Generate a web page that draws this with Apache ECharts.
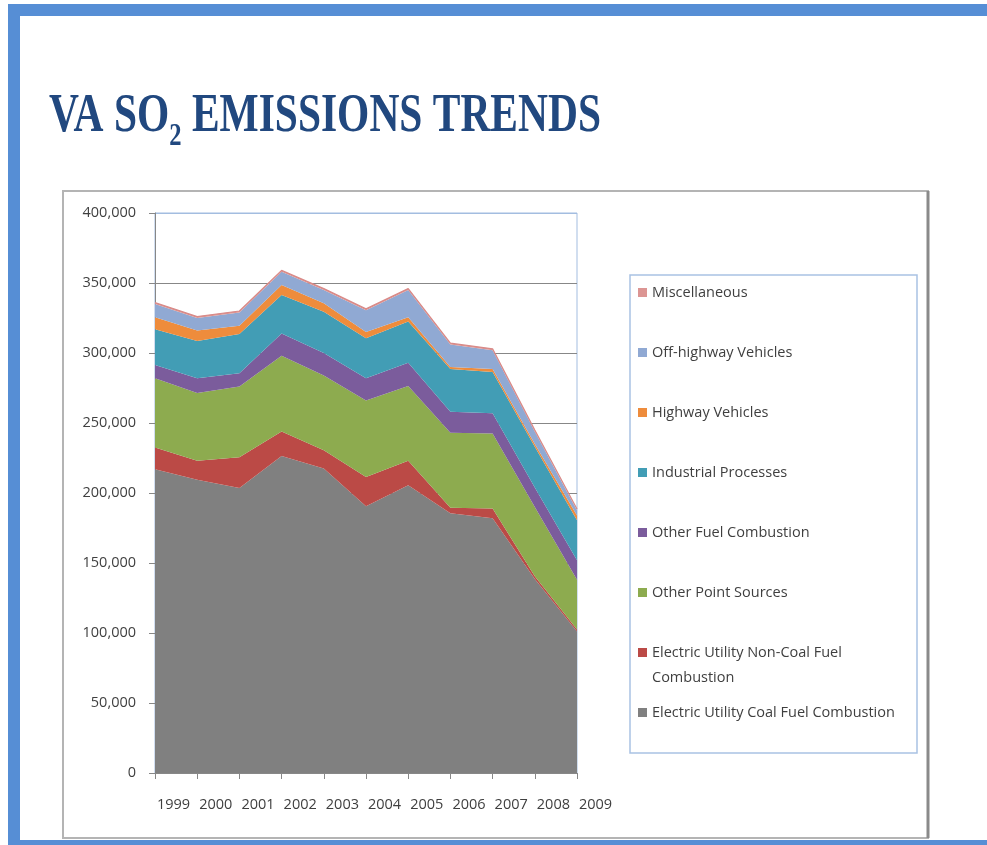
<!DOCTYPE html>
<html>
<head>
<meta charset="utf-8">
<script src="https://cdn.jsdelivr.net/npm/echarts@6/dist/echarts.min.js"></script>
<style>
  html, body { margin: 0; padding: 0; background: #ffffff; }
  #chart { width: 987px; height: 845px; }
</style>
</head>
<body>
<div id="chart"></div>
<script>
// Virginia SO2 emissions by source category, tons per year
const years = ['1999', '2000', '2001', '2002', '2003', '2004', '2005', '2006', '2007', '2008', '2009'];

const coalFuel      = [217000, 209500, 203500, 226500, 217500, 190500, 205500, 185500, 182000, 138500, 101000];
const nonCoalFuel   = [15500, 13500, 22000, 17500, 13000, 21000, 17500, 4000, 7000, 2000, 1500];
const otherPoint    = [49500, 48500, 50500, 54000, 53500, 54500, 53500, 53500, 53500, 49500, 35500];
const otherFuel     = [9500, 10500, 9500, 16000, 16000, 16000, 16500, 15000, 14500, 14000, 14000];
const industrial    = [25500, 26500, 28000, 27500, 29500, 28500, 29500, 30500, 29500, 29000, 28500];
const highway       = [8500, 7500, 6000, 7000, 6000, 4500, 3000, 1500, 2000, 2000, 3500];
const offHighway    = [9500, 9000, 9500, 9500, 9500, 15500, 19500, 16000, 13500, 9000, 3500];
const miscellaneous = [1000, 1000, 1000, 1000, 1000, 1000, 1000, 1000, 1000, 1000, 1000];

const yTicks = [0, 50000, 100000, 150000, 200000, 250000, 300000, 350000, 400000];

// bottom-to-top stacking order
const layers = [
  { name: 'Electric Utility Coal Fuel Combustion',     data: coalFuel,      color: '#808080' },
  { name: 'Electric Utility Non-Coal Fuel Combustion', data: nonCoalFuel,   color: '#bb4a46' },
  { name: 'Other Point Sources',                       data: otherPoint,    color: '#8dab4f' },
  { name: 'Other Fuel Combustion',                     data: otherFuel,     color: '#7b5c9c' },
  { name: 'Industrial Processes',                      data: industrial,    color: '#429db5' },
  { name: 'Highway Vehicles',                          data: highway,       color: '#ee8c3c' },
  { name: 'Off-highway Vehicles',                      data: offHighway,    color: '#90a9d3' },
  { name: 'Miscellaneous',                             data: miscellaneous, color: '#dc9593' }
];

const FONT = '"Open Sans", "DejaVu Sans", sans-serif';
const TEXT_COLOR = '#3f3f3f';
const AXIS_GREY = '#878787';
const PLOT_BLUE = '#a3bde0';

const chart = echarts.init(document.getElementById('chart'), null, { renderer: 'canvas' });

// --- title pieces measured so the subscript sits right after "SO"
const titleFont = 'bold 54px "Liberation Serif"';
const subFont = 'bold 32px "Liberation Serif"';
function textWidth(str, font) {
  return new echarts.graphic.Text({ style: { text: str, font: font } }).getBoundingRect().width;
}
const w1 = textWidth('VA SO', titleFont);
const w2 = textWidth('2', subFont);
const w3 = textWidth(' EMISSIONS TRENDS', titleFont);
const titleScale = 552 / (w1 + w2 + w3);
const titleColor = '#21487f';

// --- legend: one component per entry, top entry first
const WRAPPED = 'Electric Utility Non-Coal Fuel Combustion';
const legendOrder = layers.slice().reverse();
const legends = legendOrder.map(function (layer, i) {
  const centre = 292.5 + i * 60;
  const twoLine = layer.name === WRAPPED;
  const lh = twoLine ? 25 : 18;
  return {
    data: [layer.name],
    left: 638,
    // the wrapped entry is laid out as three lines (blank, first, second) so the
    // marker lines up with its first line
    top: twoLine ? centre - lh * 1.5 : centre - lh / 2,
    padding: 0,
    orient: 'vertical',
    icon: 'rect',
    itemWidth: 9,
    itemHeight: 9,
    selectedMode: false,
    formatter: function (name) {
      return name === WRAPPED ? '\nElectric Utility Non-Coal Fuel\nCombustion' : name;
    },
    textStyle: { fontFamily: FONT, fontSize: 14.5, color: TEXT_COLOR, lineHeight: lh }
  };
});

const splitColors = yTicks.map(function (v, i) { return i === yTicks.length - 1 ? PLOT_BLUE : AXIS_GREY; });

const option = {
  backgroundColor: '#ffffff',
  animation: false,
  grid: {
    left: 155, top: 213, right: 410, bottom: 72,
    show: true, borderColor: PLOT_BLUE, borderWidth: 1, backgroundColor: 'transparent',
    outerBoundsMode: 'none', containLabel: false
  },
  legend: legends,
  xAxis: {
    type: 'category',
    data: years,
    boundaryGap: false,
    axisLine: { show: true, lineStyle: { color: AXIS_GREY, width: 1 } },
    axisTick: { show: true, inside: false, length: 6, lineStyle: { color: AXIS_GREY } },
    axisLabel: {
      interval: 0, align: 'left', margin: 24, padding: [0, 0, 0, 2],
      fontFamily: FONT, fontSize: 14.5, color: TEXT_COLOR
    },
    splitLine: { show: false }
  },
  yAxis: {
    type: 'value',
    min: 0, max: 400000, interval: 50000,
    axisLine: { show: true, lineStyle: { color: AXIS_GREY, width: 1 } },
    axisTick: { show: true, inside: false, length: 6, lineStyle: { color: AXIS_GREY } },
    axisLabel: {
      margin: 19, fontFamily: FONT, fontSize: 14.5, color: TEXT_COLOR,
      formatter: function (v) { return v.toLocaleString('en-US'); }
    },
    splitLine: { show: true, lineStyle: { color: splitColors, width: 1 } }
  },
  series: layers.map(function (layer) {
    const isTop = layer.name === 'Miscellaneous';
    return {
      name: layer.name,
      type: 'line',
      stack: 'total',
      data: layer.data,
      symbol: 'none',
      showSymbol: false,
      smooth: false,
      color: layer.color,
      itemStyle: { color: layer.color },
      lineStyle: isTop ? { width: 1.2, color: '#d98a88' } : { width: 0 },
      areaStyle: { color: layer.color, opacity: 1 },
      emphasis: { disabled: true }
    };
  }),
  graphic: [
    // page border
    { type: 'rect', shape: { x: 8, y: 4, width: 979, height: 12 }, style: { fill: '#568ed5' }, silent: true },
    { type: 'rect', shape: { x: 8, y: 4, width: 12, height: 841 }, style: { fill: '#568ed5' }, silent: true },
    { type: 'rect', shape: { x: 8, y: 840, width: 979, height: 5 }, style: { fill: '#568ed5' }, silent: true },
    // chart frame
    { type: 'rect', shape: { x: 63, y: 191, width: 865, height: 647 },
      style: { fill: 'none', stroke: '#b4b4b4', lineWidth: 2 }, silent: true },
    { type: 'line', shape: { x1: 928, y1: 191, x2: 928, y2: 838 },
      style: { stroke: '#8a8a8a', lineWidth: 3 }, silent: true },
    // legend frame
    { type: 'rect', shape: { x: 630, y: 275, width: 287, height: 478 },
      style: { fill: 'none', stroke: '#a9c2e3', lineWidth: 1.5 }, silent: true },
    // title
    {
      type: 'group', x: 49, y: 0, scaleX: titleScale,
      children: [
        { type: 'text', x: 0, y: 117,
          style: { text: 'VA SO', font: titleFont, fill: titleColor, verticalAlign: 'middle', align: 'left' } },
        { type: 'text', x: w1, y: 137,
          style: { text: '2', font: subFont, fill: titleColor, verticalAlign: 'middle', align: 'left' } },
        { type: 'text', x: w1 + w2, y: 117,
          style: { text: ' EMISSIONS TRENDS', font: titleFont, fill: titleColor, verticalAlign: 'middle', align: 'left' } }
      ]
    }
  ]
};

chart.setOption(option);
</script>
</body>
</html>
